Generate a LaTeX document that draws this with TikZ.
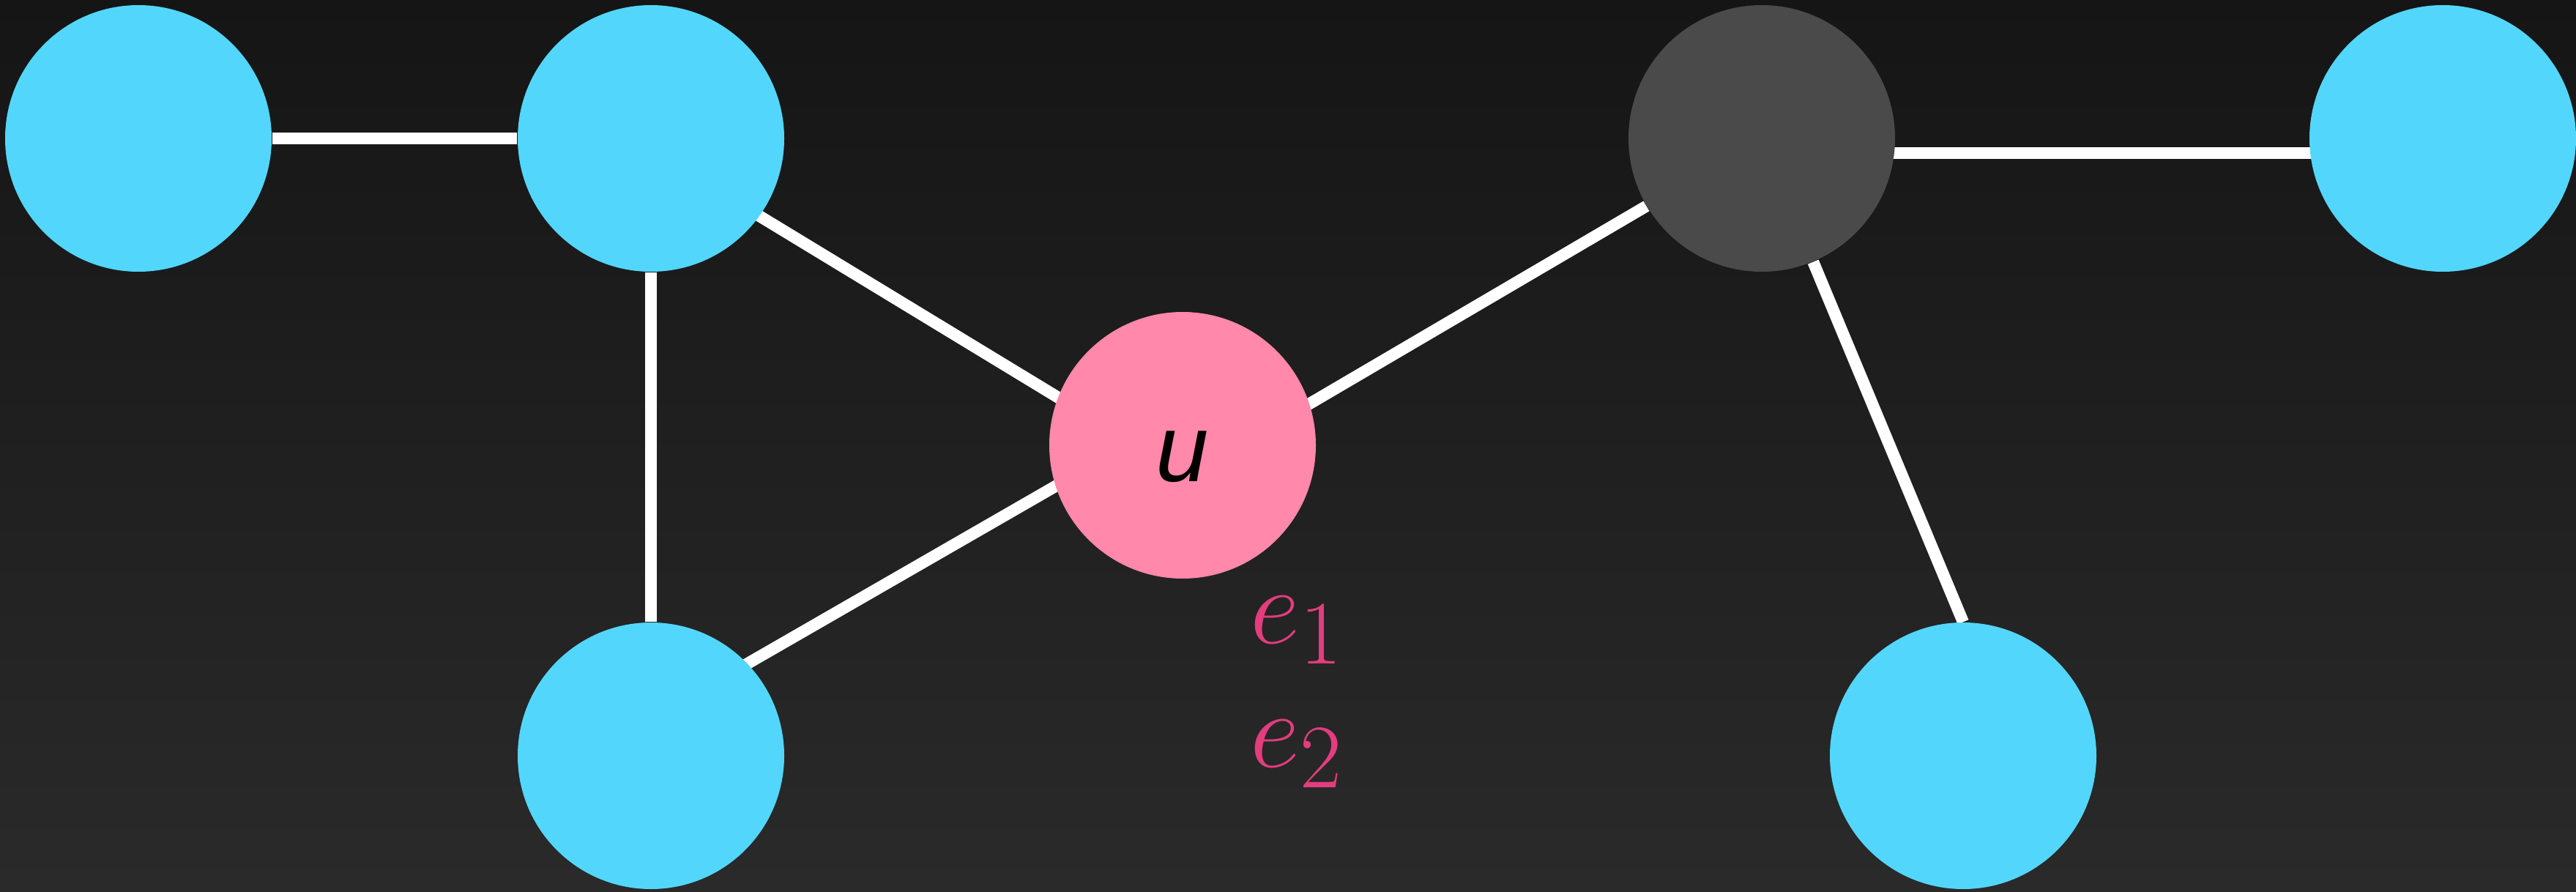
\documentclass[tikz,border=0pt]{standalone}
\usepackage{graphicx}
\usepackage{fontspec}
\newfontfamily\nodefont{Liberation Sans}
\usetikzlibrary{calc, backgrounds}

\definecolor{bgtop}{HTML}{151515}
\definecolor{bgbot}{HTML}{2A2A2A}
\definecolor{vcyan}{HTML}{53D6FC}
\definecolor{vpink}{HTML}{FF88AB}
\definecolor{vgray}{HTML}{4A4A4A}
\definecolor{epink}{HTML}{E23D7E}

\newcommand{\elab}[1]{\scalebox{1.7}{\Huge$#1$}}

\begin{document}
\begin{tikzpicture}[
  vert/.style={circle, minimum size=3.64cm, inner sep=0pt, fill=vcyan},
  edge/.style={white, line width=0.16cm},
  elabel/.style={text=epink, inner sep=0pt}]
\useasboundingbox (0,0) rectangle (35.18,12.17);
% Knoten
\node[vert] (A) at (1.89,10.28) {};
\node[vert] (B) at (8.89,10.28) {};
\node[vert] (C) at (8.89,1.85) {};
\node[vert, fill=vpink, font=\nodefont\itshape\fontsize{37}{42}\selectfont] (u) at (16.15,6.09) {\smash{\raisebox{-14pt}{u}}};
\node[vert, fill=vgray] (D) at (24.06,10.28) {};
\node[vert] (E) at (33.36,10.28) {};
\node[vert] (F) at (26.81,1.85) {};
% Kantenbeschriftungen
\node[elabel, anchor=base west] (e1) at (17.07,3.39) {\elab{e_1}};
\node[elabel, anchor=base west] (e2) at (17.07,1.70) {\elab{e_2}};
% Hintergrund und Kanten
\begin{scope}[on background layer]
\shade[top color=bgtop, bottom color=bgbot] (0,0) rectangle (35.18,12.17);
\draw[edge] (A) -- (B);
\draw[edge] (B) -- (C);
\draw[edge] ($(B)+(0,-0.16)$) -- ($(u)+(0,-0.38)$);
\draw[edge] ($(C)+(0,0.5)$) -- ($(u)+(0,0.44)$);
\draw[edge] (D) -- ($(u)+(0,-0.45)$);
\draw[edge] ($(D)+(0,-0.2)$) -- ($(E)+(0,-0.2)$);
\draw[edge] (D) -- (F.north);
\end{scope}
\end{tikzpicture}
\end{document}
